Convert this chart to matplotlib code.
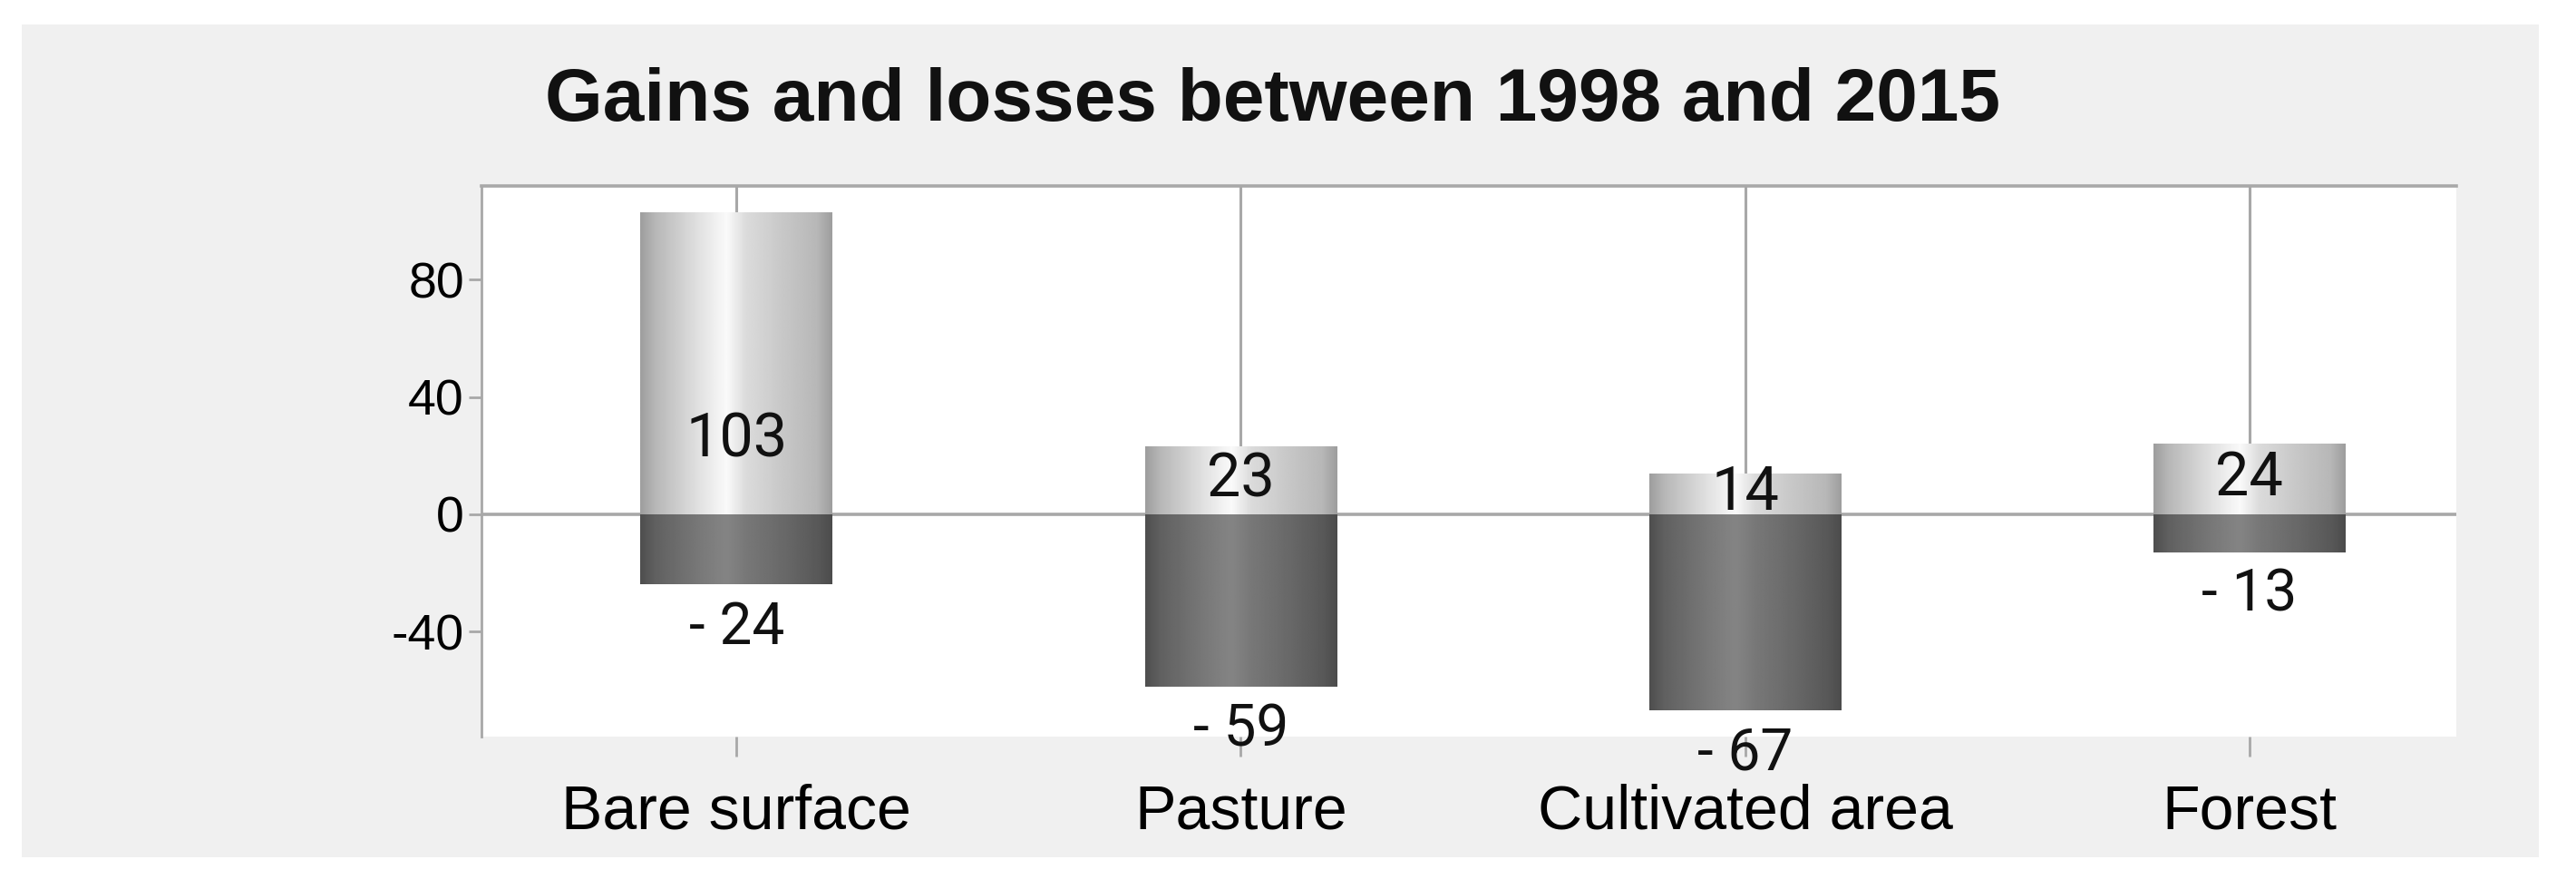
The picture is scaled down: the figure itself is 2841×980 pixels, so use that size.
import matplotlib.pyplot as plt
import numpy as np
from matplotlib.patches import Rectangle

# data
categories = ['Bare surface', 'Pasture', 'Cultivated area', 'Forest']
gains = [103, 23, 14, 24]
losses = [-24, -59, -67, -13]
yticks = [-40, 0, 40, 80]
title = 'Gains and losses between 1998 and 2015'

fam = ['Liberation Sans', 'DejaVu Sans']
lab_fam = ['Roboto', 'DejaVu Sans']

fig = plt.figure(figsize=(28.41, 9.8), dpi=100)
fig.patch.set_facecolor('white')
# grey panel behind the chart
fig.patches.append(Rectangle((0.0084, 0.036), 0.977, 0.936, transform=fig.transFigure,
                             facecolor='#f0f0f0', edgecolor='none', zorder=-10))

ax = fig.add_axes([0.187, 0.171, 0.7665, 0.62])
ax.set_facecolor('white')

x = np.arange(len(categories))
w = 0.38
ymin, ymax = -76, 112

# cylinder-like shading across each bar
pos = [0, 0.08, 0.3, 0.45, 0.55, 0.75, 0.92, 1]
light = np.interp(np.linspace(0, 1, 200), pos, [0.62, 0.72, 0.88, 0.98, 0.86, 0.78, 0.72, 0.62])
dark = np.interp(np.linspace(0, 1, 200), pos, [0.31, 0.38, 0.47, 0.52, 0.47, 0.41, 0.35, 0.30])

ax.vlines(x, gains, ymax, color='#a8a8a8', lw=2.2, zorder=1)
ax.axhline(0, color='#a8a8a8', lw=2.6, zorder=1)

bars_g = ax.bar(x, gains, w, color='#d0d0d0', zorder=2)
bars_l = ax.bar(x, losses, w, color='#666666', zorder=2)
for bars, prof in [(bars_g, light), (bars_l, dark)]:
    for r in bars:
        x0, y0 = r.get_x(), r.get_y()
        im = ax.imshow(prof[None, :], cmap='gray', vmin=0, vmax=1, aspect='auto',
                       extent=(x0, x0 + r.get_width(), y0, y0 + r.get_height()),
                       zorder=3, interpolation='bilinear')
        im.set_clip_path(r)

for i in range(len(categories)):
    ax.text(x[i], min(gains[i], 50) / 2, str(gains[i]), ha='center', va='center',
            fontsize=48, family=lab_fam, color='#111111', zorder=5)
    ax.text(x[i], losses[i] - 5, '- ' + str(abs(losses[i])), ha='center', va='top',
            fontsize=46, family=lab_fam, color='#111111', zorder=5)

ax.set_xlim(-0.505, 3.41)
ax.set_ylim(ymin, ymax)
ax.set_yticks(yticks)
ax.set_yticklabels([str(t) for t in yticks], family=fam, fontsize=40)
ax.set_xticks(x)
ax.set_xticklabels(categories, family=fam, fontsize=49)
ax.tick_params(axis='y', length=10, width=2, color='#a8a8a8', pad=4)
ax.tick_params(axis='x', length=16, width=2, color='#a8a8a8', pad=21)

for s in ['bottom', 'right']:
    ax.spines[s].set_visible(False)
ax.spines['top'].set_color('#a8a8a8')
ax.spines['top'].set_linewidth(2.6)
ax.spines['left'].set_color('#a8a8a8')
ax.spines['left'].set_linewidth(2)

fig.text(0.494, 0.886, title, ha='center', va='center', fontsize=59,
         fontweight='bold', family=['Liberation Sans', 'DejaVu Sans'], color='#111111')

plt.savefig('out.png', dpi=100)
